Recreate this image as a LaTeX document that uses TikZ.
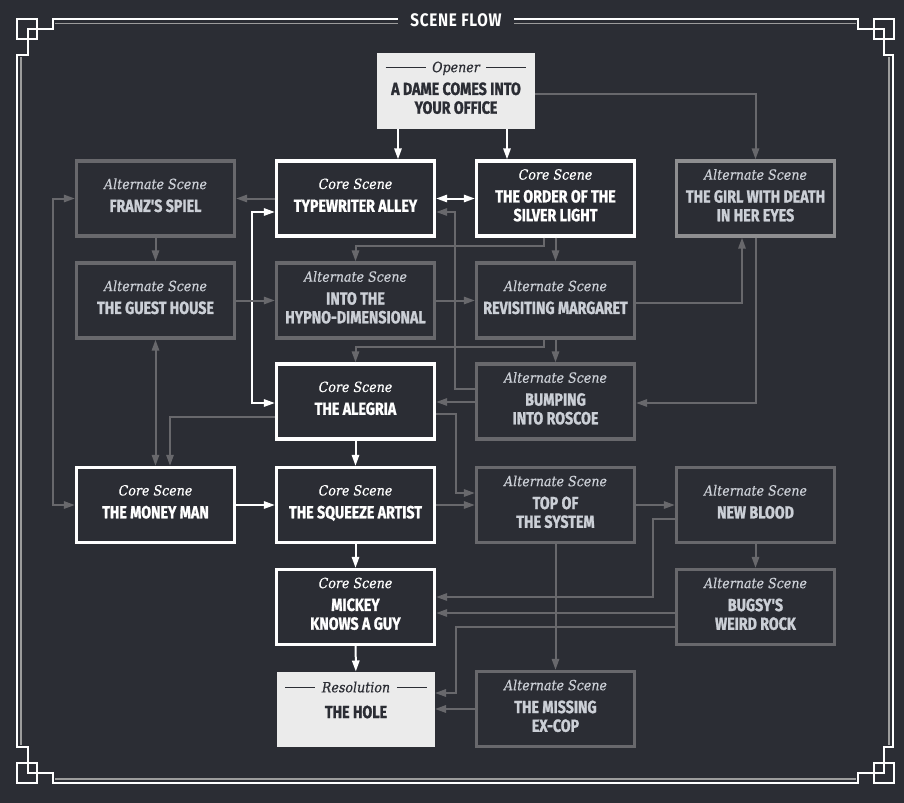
\documentclass[tikz,border=0pt]{standalone}
\usepackage{fontspec}
\usepackage{xcolor}
\usepackage{tikz}
\usetikzlibrary{positioning,arrows.meta}

\newfontfamily\ttlfont[FakeStretch=0.81,BoldFeatures={FakeBold=1.2}]{Fira Sans}
\newfontfamily\headfont[FakeStretch=0.84,LetterSpace=4]{Fira Sans}
\newfontfamily\labfont[FakeStretch=0.9,ItalicFeatures={FakeBold=0.4}]{DejaVu Serif}
\definecolor{bgdark}{HTML}{2B2D34}
\definecolor{altgray}{HTML}{68686C}
\definecolor{girlgray}{HTML}{8E8E90}
\definecolor{alttext}{HTML}{CBCFD6}
\definecolor{endfill}{HTML}{EBEBEB}
\definecolor{framegray}{HTML}{9C9C9C}

\newcommand{\lab}[1]{{\labfont\itshape\fontsize{12}{15}\selectfont #1}}
\newcommand{\ttl}[1]{{\ttlfont\bfseries\fontsize{15}{16}\selectfont #1}}
\newcommand{\siderule}[1]{\rule[4pt]{#1}{0.6pt}}

\begin{document}
\begin{tikzpicture}[x=0.3mm,y=-0.3mm,
    >={Triangle[length=3.3mm,width=2.2mm]},
    every node/.style={font=\fontsize{13}{16}\selectfont},
    box/.style={rectangle,minimum width=47.4mm,minimum height=22.5mm,align=center,line width=1mm,fill=bgdark,inner sep=2pt,text depth=2mm},
    core/.style={box,draw=white,text=white},
    alt/.style={box,draw=altgray,text=alttext},
    altlight/.style={alt,draw=girlgray},
    ends/.style={box,draw=none,fill=endfill,text=bgdark,outer sep=0pt},
    link/.style={line width=0.6mm,altgray},
    main/.style={line width=0.6mm,white},
    frame/.style={line width=0.45mm,white},
    frameinner/.style={line width=0.45mm,framegray}
]

% background and frame
\fill[bgdark] (0,0) rectangle (904,803);
\draw[frame] (398,19) -- (53,19) -- (53,29) -- (28,29) -- (28,55) -- (17,55) -- (17,747) -- (28,747) -- (28,773) -- (53,773) -- (53,783)
  -- (858,783) -- (858,773) -- (884,773) -- (884,747) -- (893,747) -- (893,55) -- (884,55) -- (884,29) -- (858,29) -- (858,19) -- (514,19);
\draw[frame] (17,19) rectangle (37,39);
\draw[frame] (17,763) rectangle (37,783);
\draw[frame] (874,19) rectangle (894,39);
\draw[frame] (874,763) rectangle (894,783);
\draw[frameinner] (55,23.5) -- (398,23.5);
\draw[frameinner] (514,23.5) -- (856,23.5);
\draw[frameinner] (55,779) -- (856,779);
\draw[frameinner] (21,57) -- (21,745);
\draw[frameinner] (889,57) -- (889,745);
\node[text=white] (title) at (456,20) {\headfont\bfseries\fontsize{15.5}{16}\selectfont SCENE FLOW};

% opener
\node[ends] (opener) at (456,91) {\siderule{12mm}\hspace{2mm}\lab{Opener}\hspace{2mm}\siderule{12mm}\\[3.5pt]\ttl{A DAME COMES INTO}\\\ttl{YOUR OFFICE}};

% row 1
\node[alt]      (franz)      at (155.5,198.5) {\lab{Alternate Scene}\\[3.5pt]\ttl{FRANZ'S SPIEL}};
\node[core]     (typewriter) at (355.5,198.5) {\lab{Core Scene}\\[3.5pt]\ttl{TYPEWRITER ALLEY}};
\node[core]     (order)      at (555.5,198.5) {\lab{Core Scene}\\[3.5pt]\ttl{THE ORDER OF THE}\\\ttl{SILVER LIGHT}};
\node[altlight] (girl)       at (755.5,198.5) {\lab{Alternate Scene}\\[3.5pt]\ttl{THE GIRL WITH DEATH}\\\ttl{IN HER EYES}};

% row 2
\node[alt] (guest)    at (155.5,300.5) {\lab{Alternate Scene}\\[3.5pt]\ttl{THE GUEST HOUSE}};
\node[alt] (hypno)    at (355.5,300.5) {\lab{Alternate Scene}\\[3.5pt]\ttl{INTO THE}\\\ttl{HYPNO-DIMENSIONAL}};
\node[alt] (margaret) at (555.5,300.5) {\lab{Alternate Scene}\\[3.5pt]\ttl{REVISITING MARGARET}};

% row 3
\node[core] (alegria) at (355.5,401.5) {\lab{Core Scene}\\[3.5pt]\ttl{THE ALEGRIA}};
\node[alt]  (roscoe)  at (555.5,401.5) {\lab{Alternate Scene}\\[3.5pt]\ttl{BUMPING}\\\ttl{INTO ROSCOE}};

% row 4
\node[core] (money)    at (155.5,505) {\lab{Core Scene}\\[3.5pt]\ttl{THE MONEY MAN}};
\node[core] (squeeze)  at (355.5,505) {\lab{Core Scene}\\[3.5pt]\ttl{THE SQUEEZE ARTIST}};
\node[alt]  (topsys)   at (555.5,505) {\lab{Alternate Scene}\\[3.5pt]\ttl{TOP OF}\\\ttl{THE SYSTEM}};
\node[alt]  (newblood) at (755.5,505) {\lab{Alternate Scene}\\[3.5pt]\ttl{NEW BLOOD}};

% row 5
\node[core] (mickey) at (355.5,607) {\lab{Core Scene}\\[3.5pt]\ttl{MICKEY}\\\ttl{KNOWS A GUY}};
\node[alt]  (bugsy)  at (755.5,607) {\lab{Alternate Scene}\\[3.5pt]\ttl{BUGSY'S}\\\ttl{WEIRD ROCK}};

% row 6
\node[ends,text depth=5.5mm] (hole) at (356,709) {\siderule{9mm}\hspace{2mm}\lab{Resolution}\hspace{2mm}\siderule{9mm}\\[6pt]\ttl{THE HOLE}};
\node[alt]  (excop) at (555.5,709) {\lab{Alternate Scene}\\[3.5pt]\ttl{THE MISSING}\\\ttl{EX-COP}};

% core flow (white)
\draw[main,->] (opener.south -| 398,0) -- (typewriter.north -| 398,0);
\draw[main,->] (opener.south -| 507,0) -- (order.north -| 507,0);
\draw[main,<->] (typewriter.east) -- (order.west);
\draw[main,<->] (typewriter.west |- 0,212) -- (252,212) -- (252,403) -- (alegria.west |- 0,403);
\draw[main,->] (alegria) -- (squeeze);
\draw[main,->] (money) -- (squeeze);
\draw[main,->] (squeeze) -- (mickey);
\draw[main,->] (mickey) -- (hole);

% alternate links (gray)
\draw[link,->] (opener.east |- 0,94) -| (girl.north);
\draw[link,->] (typewriter.west) -- (franz.east);
\draw[link,->] (franz) -- (guest);
\draw[link,<->] (franz.west) -- (53,198.5) -- (53,505) -- (money.west);
\draw[link,<->] (guest) -- (money);
\draw[link,->] (alegria.west |- 0,417) -| (money.north -| 170,0);
\draw[link,->] (guest) -- (hypno);
\draw[link,->] (order.south -| 544,0) -- (544,246) -| (hypno.north);
\draw[link,->] (order) -- (margaret);
\draw[link,->] (roscoe.west |- 0,389) -- (455,389) -- (455,212) -- (typewriter.east |- 0,212);
\draw[link,->] (hypno) -- (margaret);
\draw[link,->] (margaret.east |- 0,303) -| (girl.south -| 742,0);
\draw[link,->] (girl.south) |- (roscoe.east |- 0,403);
\draw[link,->] (margaret.south -| 544,0) -- (544,347) -| (alegria.north);
\draw[link,->] (margaret) -- (roscoe);
\draw[link,->] (roscoe.west |- 0,402) -- (alegria.east |- 0,402);
\draw[link,->] (alegria.east |- 0,414) -- (456,414) |- (topsys.west |- 0,493);
\draw[link,->] (squeeze) -- (topsys);
\draw[link,->] (topsys) -- (newblood);
\draw[link,->] (newblood) -- (bugsy);
\draw[link,->] (newblood.west |- 0,519) -- (653,519) |- (mickey.east |- 0,597);
\draw[link,->] (bugsy.west |- 0,613) -- (mickey.east |- 0,613);
\draw[link,->] (bugsy.west |- 0,627) -- (456,627) |- (hole.east |- 0,693);
\draw[link,->] (topsys) -- (excop);
\draw[link,->] (excop) -- (hole);

\end{tikzpicture}
\end{document}
